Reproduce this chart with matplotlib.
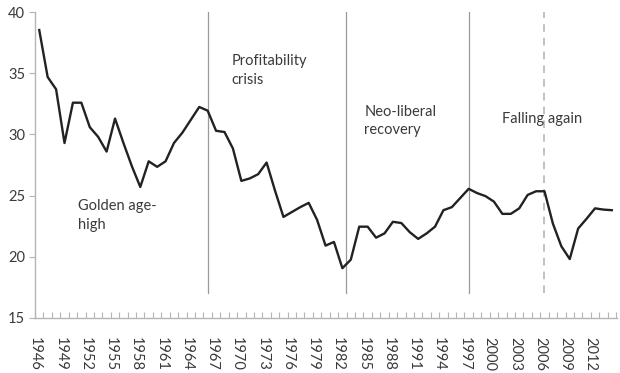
import matplotlib
matplotlib.use('Agg')
import matplotlib.pyplot as plt

# ─── Data ──────────────────────────────────────────────────────────────────
years = list(range(1946, 2015))
rate = [38.55, 34.7, 33.7, 29.3, 32.6, 32.6, 30.6, 29.8, 28.6, 31.3,
        29.3, 27.4, 25.7, 27.8, 27.35, 27.8, 29.3, 30.15, 31.2, 32.25,
        31.95, 30.3, 30.2, 28.85, 26.2, 26.4, 26.75, 27.7, 25.4, 23.25,
        23.65, 24.05, 24.4, 23.0, 20.9, 21.2, 19.05, 19.75, 22.45, 22.45,
        21.55, 21.9, 22.85, 22.75, 22.0, 21.45, 21.9, 22.45, 23.8, 24.05,
        24.8, 25.55, 25.2, 24.95, 24.5, 23.5, 23.5, 23.95, 25.05, 25.35,
        25.35, 22.7, 20.85, 19.8, 22.3, 23.1, 23.95, 23.85, 23.8]

phase_breaks = [1966, 1982.4, 1997]
dashed_break = 2006
phase_labels = ['Golden age-\nhigh', 'Profitability\ncrisis',
                'Neo-liberal\nrecovery', 'Falling again']
yticks = [15, 20, 25, 30, 35, 40]
xlabel_years = list(range(1946, 2013, 3))

TEXT = '#3a3a3a'
SPINE = '#b5b5b5'
plt.rcParams['font.family'] = ['Lato', 'DejaVu Sans']

fig = plt.figure(figsize=(6.2, 3.73), dpi=100)
ax = fig.add_axes([0.0565, 0.1483, 0.9385, 0.8187])

for x in phase_breaks:
    ax.plot([x, x], [17, 40], color='#9a9a9a', lw=0.9, zorder=1)
ax.plot([dashed_break, dashed_break], [17, 40], color='#b0b0b0', lw=1.1,
        ls=(0, (5, 4)), zorder=1)

ax.plot(years, rate, color='#222222', lw=1.7, solid_joinstyle='round', zorder=3)

ax.set_xlim(1945.5, 2014.6)
ax.set_ylim(15, 40)

ax.set_yticks(yticks)
ax.set_yticklabels([str(v) for v in yticks], fontsize=10.5, color=TEXT)
ax.tick_params(axis='y', direction='out', length=4, width=0.8, color=SPINE, pad=3)

ax.set_xticks([y - 0.5 for y in range(1946, 2016)], minor=True)
ax.set_xticks([y - 0.5 for y in xlabel_years])
ax.set_xticklabels([str(y) for y in xlabel_years], rotation=270,
                   fontsize=10.5, color=TEXT, va='top', ha='center')
ax.tick_params(axis='x', which='both', direction='in', length=4, width=0.8,
               color=SPINE, pad=14)

for side in ['top', 'right']:
    ax.spines[side].set_visible(False)
for side in ['left', 'bottom']:
    ax.spines[side].set_color(SPINE)
    ax.spines[side].set_linewidth(1.0)

# phase annotations
ax.text(1950.55, 23.35, phase_labels[0], fontsize=10.5, color=TEXT,
        va='center', ha='left', linespacing=1.45)
ax.text(1968.8, 35.2, phase_labels[1], fontsize=10.5, color=TEXT,
        va='center', ha='left', linespacing=1.45)
ax.text(1984.6, 31.1, phase_labels[2], fontsize=10.5, color=TEXT,
        va='center', ha='left', linespacing=1.35)
ax.text(2001.0, 31.25, phase_labels[3], fontsize=10.5, color=TEXT,
        va='center', ha='left')

fig.savefig('out.png', dpi=100, facecolor='white')
